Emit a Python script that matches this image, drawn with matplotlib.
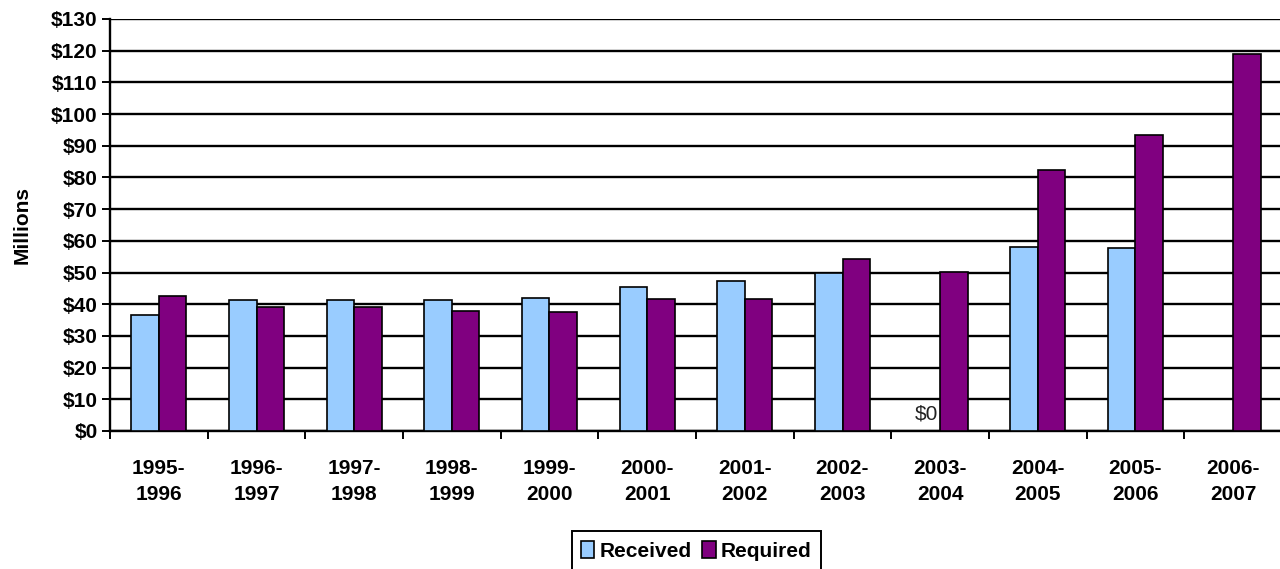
import numpy as np
import matplotlib.pyplot as plt

# fiscal years and values in millions of dollars
years = ['1995-\n1996', '1996-\n1997', '1997-\n1998', '1998-\n1999', '1999-\n2000',
         '2000-\n2001', '2001-\n2002', '2002-\n2003', '2003-\n2004', '2004-\n2005',
         '2005-\n2006', '2006-\n2007']
received = [36.5, 41.2, 41.2, 41.4, 42.1, 45.5, 47.3, 49.9, 0, 58.1, 57.7, 0]
required = [42.5, 39.2, 39.2, 37.8, 37.5, 41.5, 41.7, 54.4, 50.1, 82.3, 93.4, 118.9]

plt.rcParams['font.family'] = ['Liberation Sans', 'DejaVu Sans']

fig = plt.figure(figsize=(12.8, 5.69), dpi=100)
ax = fig.add_axes([110 / 1280, 1 - 431 / 569, 1172 / 1280, 412 / 569])

x = np.arange(len(years))
w = 0.28
ax.bar(x - w / 2, received, w, color='#99CCFF', edgecolor='black', linewidth=1.2,
       label='Received', zorder=3)
ax.bar(x + w / 2, required, w, color='#800080', edgecolor='black', linewidth=1.2,
       label='Required', zorder=3)

# only the 2003-2004 zero gets a label
ax.text(x[8] - w / 2, 2.5, '$0', ha='center', va='bottom', fontsize=15, color='#222222')

ax.set_ylim(0, 130)
ax.set_xlim(-0.5, len(years) - 0.5)
ax.set_yticks(np.arange(0, 131, 10))
ax.set_yticklabels(['$%d' % v for v in range(0, 131, 10)], fontsize=15, fontweight='bold')
ax.yaxis.grid(True, color='black', linewidth=1.7)
ax.set_axisbelow(True)

ax.set_xticks(np.arange(-0.5, len(years), 1.0))
ax.set_xticklabels([])
ax.set_xticks(x, minor=True)
ax.set_xticklabels(years, minor=True, fontsize=15, fontweight='bold', linespacing=1.45)
ax.tick_params(axis='x', which='major', length=6, width=1.4, direction='out')
ax.tick_params(axis='x', which='minor', length=0, pad=20)
ax.tick_params(axis='y', length=6, width=1.4, pad=3)

for s in ['top', 'right']:
    ax.spines[s].set_visible(False)
for s in ['left', 'bottom']:
    ax.spines[s].set_linewidth(1.7)

ax.set_ylabel('Millions', fontsize=15, fontweight='bold', labelpad=14)

leg = fig.legend(loc='lower center', bbox_to_anchor=(0.544, -0.02), ncol=2,
                 prop={'weight': 'bold', 'size': 15}, fancybox=False, edgecolor='black',
                 handlelength=0.65, handleheight=0.9, handletextpad=0.25, columnspacing=0.5,
                 borderpad=0.45, framealpha=1)
leg.get_frame().set_linewidth(1.4)

fig.savefig('out.png', dpi=100)
